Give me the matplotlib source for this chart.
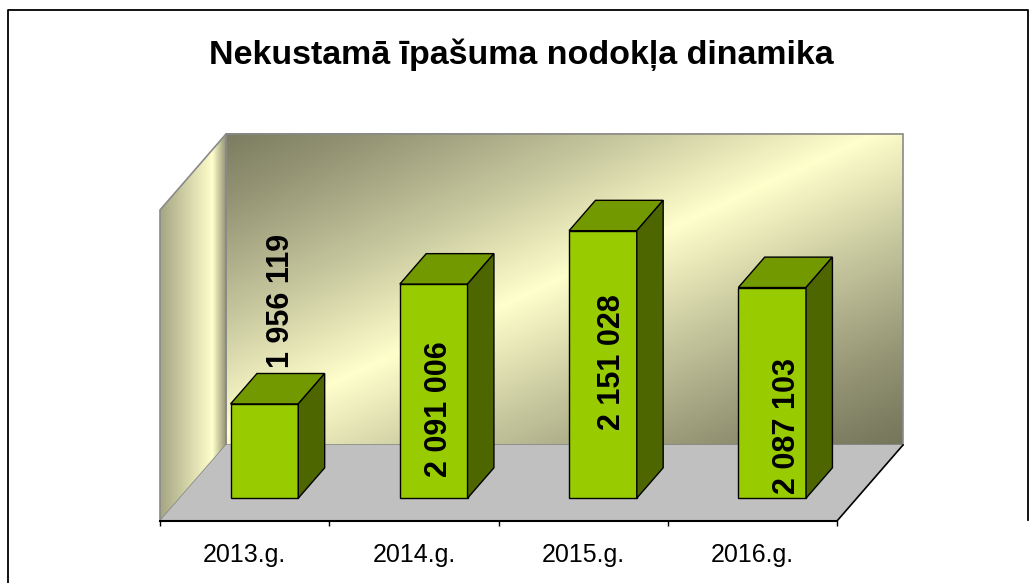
import numpy as np
import matplotlib
matplotlib.use("Agg")
import matplotlib.pyplot as plt
from matplotlib.patches import Polygon
from matplotlib.lines import Line2D

years = ["2013.g.", "2014.g.", "2015.g.", "2016.g."]
tax = [1956119, 2091006, 2151028, 2087103]
labels = ["1 956 119", "2 091 006", "2 151 028", "2 087 103"]
title = "Nekustamā īpašuma nodokļa dinamika"

# value axis range (hidden)
v_min, v_max = 1850000, 2200000

# layout in pixels
W, H = 1035, 583
x0_px, x1_px = 160, 837      # front edge of the floor
y0_px, ytop_px = 521, 210    # front plane value axis
depth_px = (66, 76)          # 3d depth offset of walls

px_per_cat = (x1_px - x0_px) / len(years)
px_per_val = (y0_px - ytop_px) / (v_max - v_min)
DX = depth_px[0] / px_per_cat
DV = depth_px[1] / px_per_val

fig = plt.figure(figsize=(W / 100, H / 100), dpi=100)
ax = fig.add_axes([0, 0, 1, 1])
ax.set_xlim(-x0_px / px_per_cat, (W - x0_px) / px_per_cat)
ax.set_ylim(v_min - (H - y0_px) / px_per_val, v_min + y0_px / px_per_val)


def P(x, v, d):
    return (x + d * DX, v + d * DV)


def quad(pts, **kw):
    p = Polygon(pts, closed=True, **kw)
    ax.add_patch(p)
    return p


n = len(years)

# back wall with diagonal gradient
dark = np.array([118, 118, 92]) / 255
light = np.array([255, 255, 204]) / 255
u = np.linspace(0, 1, 300)[None, :]
v = np.linspace(0, 1, 150)[:, None]
s = (u + v) / 2
w = np.clip(1 - np.abs(s - 0.48) / 0.52, 0, 1) ** 1.2
img = dark + (light - dark) * w[..., None]
ax.imshow(img, extent=(DX, n + DX, v_min + DV, v_max + DV), aspect="auto",
          origin="upper", interpolation="bilinear", zorder=1)
quad([P(0, v_min, 1), P(n, v_min, 1), P(n, v_max, 1), P(0, v_max, 1)],
     fill=False, edgecolor="#8a8a8a", lw=1.2, zorder=2)

# left wall with horizontal gradient
stops_u = [0.0, 0.8, 1.0]
stops_c = np.array([[165, 165, 130], [255, 255, 204], [150, 150, 118]]) / 255
uu = np.linspace(0, 1, 100)
lw_img = np.stack([np.interp(uu, stops_u, stops_c[:, k]) for k in range(3)], -1)
lw_img = np.repeat(lw_img[None, :, :], 10, axis=0)
left_pts = [P(0, v_min, 0), P(0, v_min, 1), P(0, v_max, 1), P(0, v_max, 0)]
im = ax.imshow(lw_img, extent=(0, DX, v_min, v_max + DV), aspect="auto",
               origin="upper", interpolation="bilinear", zorder=1)
clip = quad(left_pts, facecolor="none", edgecolor="#8a8a8a", lw=1.2, zorder=2)
im.set_clip_path(clip)

# floor
quad([P(0, v_min, 0), P(n, v_min, 0), P(n, v_min, 1), P(0, v_min, 1)],
     facecolor="#c0c0c0", edgecolor="none", zorder=2)
ax.plot(*zip(P(n, v_min, 0), P(n, v_min, 1)), color="black", lw=1.2, zorder=3)

# bars
bw, d0, d1 = 0.4, 0.3, 0.7
label_offsets = [(17, 103), (5, -125), (9, -131), (15, -138)]
for i, val in enumerate(tax):
    xa = i + (1 - bw) / 2
    xb = xa + bw
    ec = dict(edgecolor="black", lw=1.0, zorder=4, joinstyle="miter")
    quad([P(xa, v_min, d0), P(xb, v_min, d0), P(xb, val, d0), P(xa, val, d0)],
         facecolor="#99cc00", **ec)
    quad([P(xa, val, d0), P(xb, val, d0), P(xb, val, d1), P(xa, val, d1)],
         facecolor="#739900", **ec)
    quad([P(xb, v_min, d0), P(xb, v_min, d1), P(xb, val, d1), P(xb, val, d0)],
         facecolor="#4d6600", **ec)
    ax.annotate(labels[i], xy=P(i + 0.5, val, d0), xytext=label_offsets[i],
                textcoords="offset pixels", rotation=90, ha="center", va="center",
                fontsize=22, fontweight="bold", family="Liberation Sans",
                color="black", zorder=6)

# category axis on the front edge of the floor
for side in ["top", "left", "right"]:
    ax.spines[side].set_visible(False)
ax.spines["bottom"].set_position(("data", v_min))
ax.spines["bottom"].set_bounds(0, n)
ax.spines["bottom"].set_linewidth(1.5)
ax.spines["bottom"].set_zorder(5)
ax.set_yticks([])
ax.set_xticks(range(n + 1))
ax.set_xticklabels([])
ax.tick_params(axis="x", which="major", direction="out", length=3.5, width=1)
ax.set_xticks([i + 0.5 for i in range(n)], minor=True)
ax.set_xticklabels(years, minor=True, fontsize=18, family="Liberation Sans")
ax.tick_params(axis="x", which="minor", length=0, pad=16)

# title and chart frame
fig.text(521 / W, 1 - 64 / H, title, ha="center", va="baseline",
         fontsize=24.5, fontweight="bold", family="Liberation Sans")
fig.add_artist(Line2D([8 / W, 8 / W, 1028 / W, 1028 / W],
                      [0, 1 - 10 / H, 1 - 10 / H, 1 - 520 / H],
                      transform=fig.transFigure, color="black", lw=1.3))

fig.savefig("out.png", dpi=100)
